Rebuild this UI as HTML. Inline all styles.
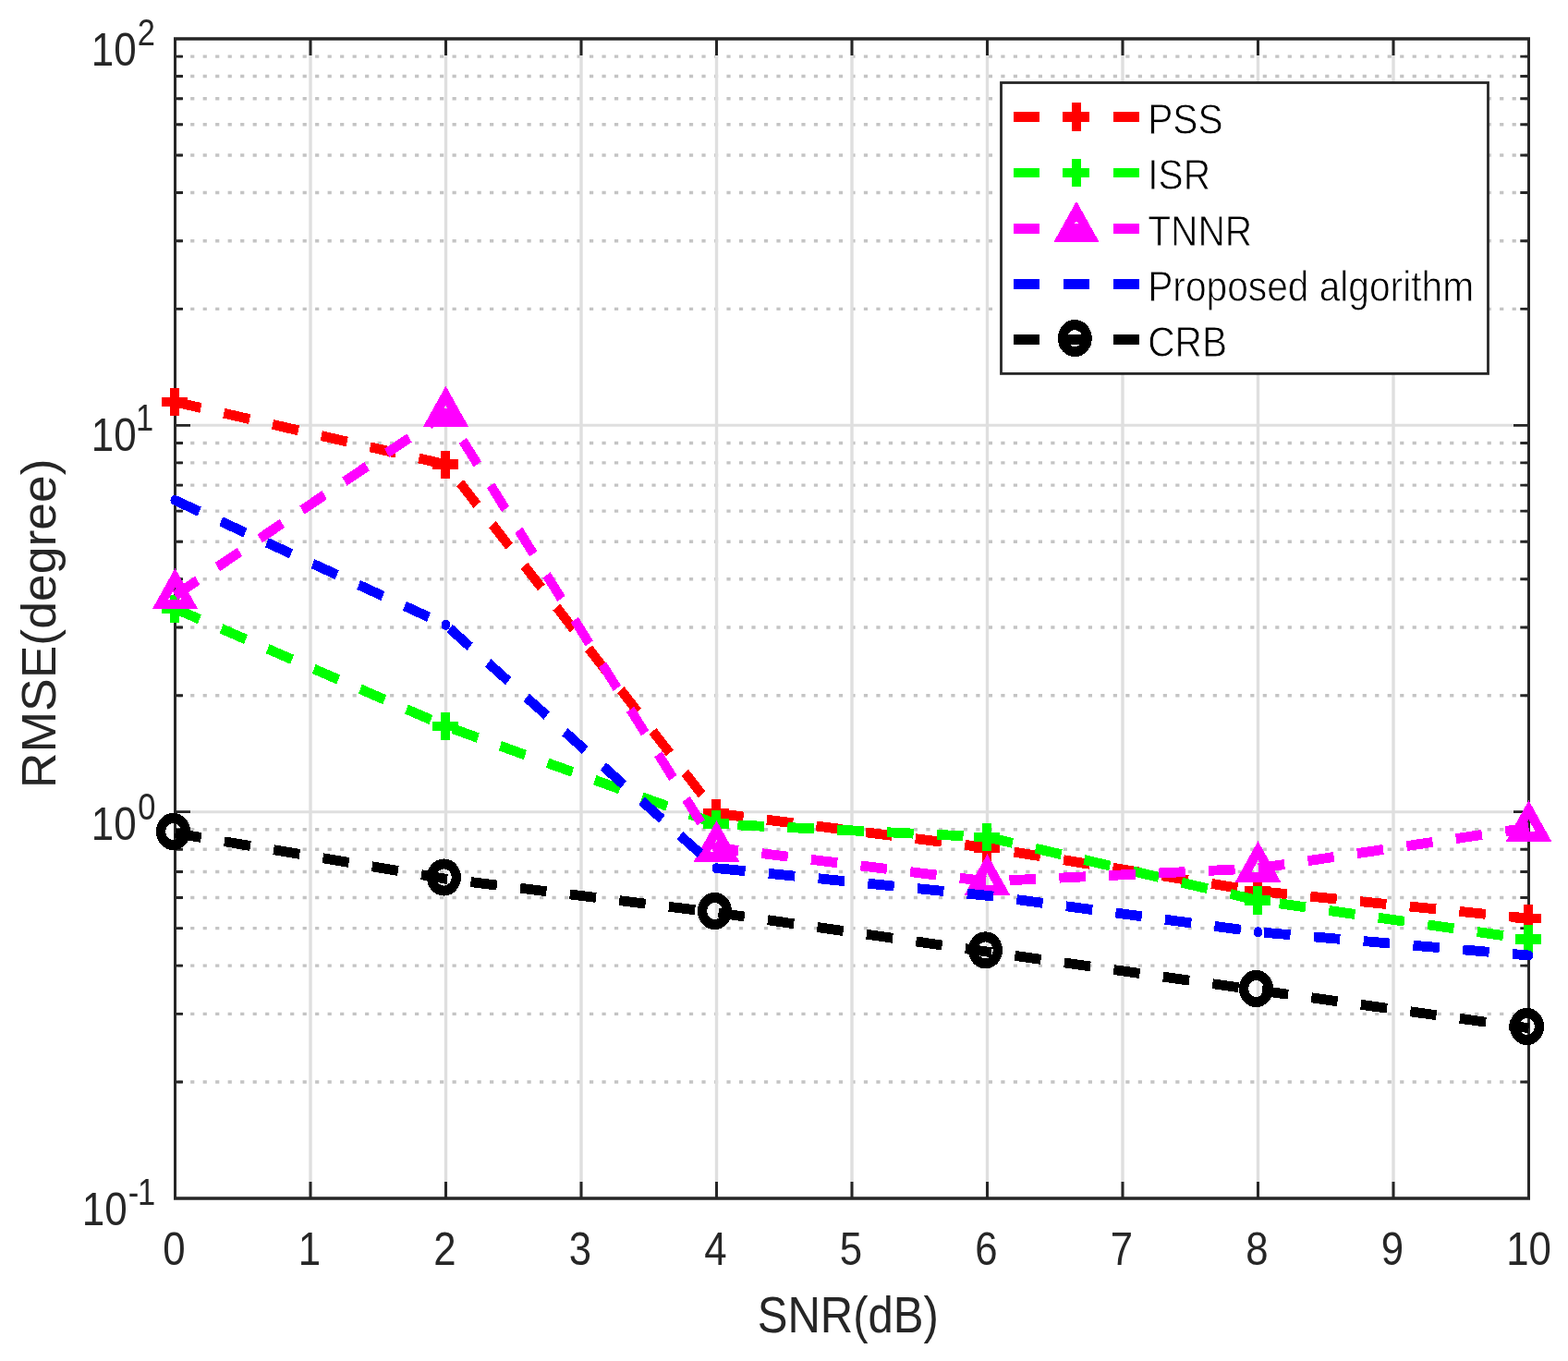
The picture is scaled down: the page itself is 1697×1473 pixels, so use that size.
<!DOCTYPE html>
<html><head><meta charset="utf-8"><title>RMSE vs SNR</title>
<style>html,body{margin:0;padding:0;background:#fff;}svg{display:block;}</style>
</head><body>
<svg width="1697" height="1473" viewBox="0 0 1697 1473">
<rect x="0" y="0" width="1697" height="1473" fill="#fff"/>
<path d="M192.65 1171.07H1653.00 M192.65 1097.40H1653.00 M192.65 1045.14H1653.00 M192.65 1004.60H1653.00 M192.65 971.47H1653.00 M192.65 943.47H1653.00 M192.65 919.21H1653.00 M192.65 897.81H1653.00 M192.65 752.74H1653.00 M192.65 679.07H1653.00 M192.65 626.80H1653.00 M192.65 586.26H1653.00 M192.65 553.14H1653.00 M192.65 525.13H1653.00 M192.65 500.87H1653.00 M192.65 479.48H1653.00 M192.65 334.40H1653.00 M192.65 260.74H1653.00 M192.65 208.47H1653.00 M192.65 167.93H1653.00 M192.65 134.81H1653.00 M192.65 106.80H1653.00 M192.65 82.54H1653.00 M192.65 61.14H1653.00" stroke="#c4c4c4" stroke-width="3.4" stroke-dasharray="4.2 9.295" fill="none"/>
<path d="M336.00 42.0V1297.0 M482.50 42.0V1297.0 M629.00 42.0V1297.0 M775.50 42.0V1297.0 M922.00 42.0V1297.0 M1068.50 42.0V1297.0 M1215.00 42.0V1297.0 M1361.50 42.0V1297.0 M1508.00 42.0V1297.0" stroke="#dfdfdf" stroke-width="3.4" fill="none"/>
<path d="M189.5 878.67H1654.5 M189.5 460.33H1654.5" stroke="#dfdfdf" stroke-width="3" fill="none"/>
<path d="M189.5 878.67H206.0M1654.5 878.67H1638.0 M189.5 460.33H206.0M1654.5 460.33H1638.0 M189.5 1171.07H198.0M1654.5 1171.07H1645.3 M189.5 1097.40H198.0M1654.5 1097.40H1645.3 M189.5 1045.14H198.0M1654.5 1045.14H1645.3 M189.5 1004.60H198.0M1654.5 1004.60H1645.3 M189.5 971.47H198.0M1654.5 971.47H1645.3 M189.5 943.47H198.0M1654.5 943.47H1645.3 M189.5 919.21H198.0M1654.5 919.21H1645.3 M189.5 897.81H198.0M1654.5 897.81H1645.3 M189.5 752.74H198.0M1654.5 752.74H1645.3 M189.5 679.07H198.0M1654.5 679.07H1645.3 M189.5 626.80H198.0M1654.5 626.80H1645.3 M189.5 586.26H198.0M1654.5 586.26H1645.3 M189.5 553.14H198.0M1654.5 553.14H1645.3 M189.5 525.13H198.0M1654.5 525.13H1645.3 M189.5 500.87H198.0M1654.5 500.87H1645.3 M189.5 479.48H198.0M1654.5 479.48H1645.3 M189.5 334.40H198.0M1654.5 334.40H1645.3 M189.5 260.74H198.0M1654.5 260.74H1645.3 M189.5 208.47H198.0M1654.5 208.47H1645.3 M189.5 167.93H198.0M1654.5 167.93H1645.3 M189.5 134.81H198.0M1654.5 134.81H1645.3 M189.5 106.80H198.0M1654.5 106.80H1645.3 M189.5 82.54H198.0M1654.5 82.54H1645.3 M189.5 61.14H198.0M1654.5 61.14H1645.3" stroke="#262626" stroke-width="2.9" fill="none"/>
<path d="M336.00 1297.0V1279.0M336.00 42.0V60.0 M482.50 1297.0V1279.0M482.50 42.0V60.0 M629.00 1297.0V1279.0M629.00 42.0V60.0 M775.50 1297.0V1279.0M775.50 42.0V60.0 M922.00 1297.0V1279.0M922.00 42.0V60.0 M1068.50 1297.0V1279.0M1068.50 42.0V60.0 M1215.00 1297.0V1279.0M1215.00 42.0V60.0 M1361.50 1297.0V1279.0M1361.50 42.0V60.0 M1508.00 1297.0V1279.0M1508.00 42.0V60.0" stroke="#262626" stroke-width="3" fill="none"/>
<path d="M189.5 42.0V1297.0M1654.5 42.0V1297.0" stroke="#262626" stroke-width="3" fill="none"/>
<path d="M188.0 42.0H1656.0M188.0 1297.0H1656.0" stroke="#262626" stroke-width="3.5" fill="none"/>
<g transform="scale(1,1.085)" shape-rendering="crispEdges">
<polyline points="189.50,400.92 482.50,463.32 775.50,811.34 1068.50,845.62 1361.50,888.94 1654.50,916.13" fill="none" stroke="#ff0000" stroke-width="10" stroke-dasharray="28.5 25.45" stroke-linejoin="round"/>
<rect x="174.70" y="395.92" width="28.6" height="10" fill="#ff0000"/><rect x="184.00" y="386.92" width="10" height="28" fill="#ff0000"/>
<rect x="467.70" y="458.32" width="28.6" height="10" fill="#ff0000"/><rect x="477.00" y="449.32" width="10" height="28" fill="#ff0000"/>
<rect x="760.70" y="806.34" width="28.6" height="10" fill="#ff0000"/><rect x="770.00" y="797.34" width="10" height="28" fill="#ff0000"/>
<rect x="1053.70" y="840.62" width="28.6" height="10" fill="#ff0000"/><rect x="1063.00" y="831.62" width="10" height="28" fill="#ff0000"/>
<rect x="1346.70" y="883.94" width="28.6" height="10" fill="#ff0000"/><rect x="1356.00" y="874.94" width="10" height="28" fill="#ff0000"/>
<rect x="1639.70" y="911.13" width="28.6" height="10" fill="#ff0000"/><rect x="1649.00" y="902.13" width="10" height="28" fill="#ff0000"/>
<polyline points="189.50,607.10 482.50,724.42 775.50,821.94 1068.50,835.02 1361.50,898.16 1654.50,936.87" fill="none" stroke="#00ff00" stroke-width="10" stroke-dasharray="28.5 25.45" stroke-linejoin="round"/>
<rect x="174.70" y="602.10" width="28.6" height="10" fill="#00ff00"/><rect x="184.00" y="593.10" width="10" height="28" fill="#00ff00"/>
<rect x="467.70" y="719.42" width="28.6" height="10" fill="#00ff00"/><rect x="477.00" y="710.42" width="10" height="28" fill="#00ff00"/>
<rect x="760.70" y="816.94" width="28.6" height="10" fill="#00ff00"/><rect x="770.00" y="807.94" width="10" height="28" fill="#00ff00"/>
<rect x="1053.70" y="830.02" width="28.6" height="10" fill="#00ff00"/><rect x="1063.00" y="821.02" width="10" height="28" fill="#00ff00"/>
<rect x="1346.70" y="893.16" width="28.6" height="10" fill="#00ff00"/><rect x="1356.00" y="884.16" width="10" height="28" fill="#00ff00"/>
<rect x="1639.70" y="931.87" width="28.6" height="10" fill="#00ff00"/><rect x="1649.00" y="922.87" width="10" height="28" fill="#00ff00"/>
<polyline points="189.50,594.01 482.50,412.26 775.50,845.71 1068.50,879.17 1361.50,866.18 1654.50,825.62" fill="none" stroke="#ff00ff" stroke-width="10" stroke-dasharray="28.5 25.45" stroke-linejoin="round"/>
<path fill="none" stroke="#ff00ff" stroke-width="10" stroke-linejoin="miter" d="M189.50 576.41L205.43 602.81L173.57 602.81Z"/>
<path fill="none" stroke="#ff00ff" stroke-width="10" stroke-linejoin="miter" d="M482.50 394.66L498.43 421.06L466.57 421.06Z"/>
<path fill="none" stroke="#ff00ff" stroke-width="10" stroke-linejoin="miter" d="M775.50 828.11L791.43 854.51L759.57 854.51Z"/>
<path fill="none" stroke="#ff00ff" stroke-width="10" stroke-linejoin="miter" d="M1068.50 861.57L1084.43 887.97L1052.57 887.97Z"/>
<path fill="none" stroke="#ff00ff" stroke-width="10" stroke-linejoin="miter" d="M1361.50 848.58L1377.43 874.98L1345.57 874.98Z"/>
<path fill="none" stroke="#ff00ff" stroke-width="10" stroke-linejoin="miter" d="M1654.50 808.02L1670.43 834.42L1638.57 834.42Z"/>
<polyline points="189.50,499.08 482.50,623.41 775.50,865.99 1068.50,893.36 1361.50,929.68 1654.50,953.00" fill="none" stroke="#0000ff" stroke-width="10" stroke-dasharray="28.5 25.45" stroke-linejoin="round"/>
<circle cx="189.50" cy="499.08" r="5" fill="#0000ff"/>
<circle cx="482.50" cy="623.41" r="5" fill="#0000ff"/>
<circle cx="775.50" cy="865.99" r="5" fill="#0000ff"/>
<circle cx="1068.50" cy="893.36" r="5" fill="#0000ff"/>
<circle cx="1361.50" cy="929.68" r="5" fill="#0000ff"/>
<circle cx="1654.50" cy="953.00" r="5" fill="#0000ff"/>
<polyline points="189.50,831.06 482.50,876.68 775.50,910.32 1068.50,949.40 1361.50,987.74 1654.50,1025.53" fill="none" stroke="#000000" stroke-width="10" stroke-dasharray="28.5 25.45" stroke-linejoin="round"/>
<circle cx="187.50" cy="829.49" r="13.4" fill="none" stroke="#000000" stroke-width="10.2"/>
<circle cx="480.50" cy="875.12" r="13.4" fill="none" stroke="#000000" stroke-width="10.2"/>
<circle cx="773.50" cy="908.76" r="13.4" fill="none" stroke="#000000" stroke-width="10.2"/>
<circle cx="1066.50" cy="947.83" r="13.4" fill="none" stroke="#000000" stroke-width="10.2"/>
<circle cx="1359.50" cy="986.18" r="13.4" fill="none" stroke="#000000" stroke-width="10.2"/>
<circle cx="1652.50" cy="1023.96" r="13.4" fill="none" stroke="#000000" stroke-width="10.2"/>
</g>
<text transform="translate(188.50,1368.60) scale(1,1.1370)" font-family="Liberation Sans, sans-serif" font-size="43.80" fill="#262626" text-anchor="middle">0</text>
<text transform="translate(335.00,1368.60) scale(1,1.1370)" font-family="Liberation Sans, sans-serif" font-size="43.80" fill="#262626" text-anchor="middle">1</text>
<text transform="translate(481.50,1368.60) scale(1,1.1370)" font-family="Liberation Sans, sans-serif" font-size="43.80" fill="#262626" text-anchor="middle">2</text>
<text transform="translate(628.00,1368.60) scale(1,1.1370)" font-family="Liberation Sans, sans-serif" font-size="43.80" fill="#262626" text-anchor="middle">3</text>
<text transform="translate(774.50,1368.60) scale(1,1.1370)" font-family="Liberation Sans, sans-serif" font-size="43.80" fill="#262626" text-anchor="middle">4</text>
<text transform="translate(921.00,1368.60) scale(1,1.1370)" font-family="Liberation Sans, sans-serif" font-size="43.80" fill="#262626" text-anchor="middle">5</text>
<text transform="translate(1067.50,1368.60) scale(1,1.1370)" font-family="Liberation Sans, sans-serif" font-size="43.80" fill="#262626" text-anchor="middle">6</text>
<text transform="translate(1214.00,1368.60) scale(1,1.1370)" font-family="Liberation Sans, sans-serif" font-size="43.80" fill="#262626" text-anchor="middle">7</text>
<text transform="translate(1360.50,1368.60) scale(1,1.1370)" font-family="Liberation Sans, sans-serif" font-size="43.80" fill="#262626" text-anchor="middle">8</text>
<text transform="translate(1507.00,1368.60) scale(1,1.1370)" font-family="Liberation Sans, sans-serif" font-size="43.80" fill="#262626" text-anchor="middle">9</text>
<text transform="translate(1654.50,1368.60) scale(1,1.1370)" font-family="Liberation Sans, sans-serif" font-size="43.80" fill="#262626" text-anchor="middle">10</text>
<text transform="translate(98.87,70.90) scale(1,1.1500)" font-family="Liberation Sans, sans-serif" font-size="44.00" fill="#262626" text-anchor="start">10</text>
<text transform="translate(158.40,48.90) scale(1,1.1681)" font-family="Liberation Sans, sans-serif" font-size="34.50" fill="#262626" text-anchor="middle">2</text>
<text transform="translate(98.87,487.80) scale(1,1.1500)" font-family="Liberation Sans, sans-serif" font-size="44.00" fill="#262626" text-anchor="start">10</text>
<text transform="translate(156.50,465.80) scale(1,1.1681)" font-family="Liberation Sans, sans-serif" font-size="34.50" fill="#262626" text-anchor="middle">1</text>
<text transform="translate(98.77,909.00) scale(1,1.1500)" font-family="Liberation Sans, sans-serif" font-size="44.00" fill="#262626" text-anchor="start">10</text>
<text transform="translate(158.90,887.00) scale(1,1.1681)" font-family="Liberation Sans, sans-serif" font-size="34.50" fill="#262626" text-anchor="middle">0</text>
<text transform="translate(88.67,1325.80) scale(1,1.1500)" font-family="Liberation Sans, sans-serif" font-size="44.00" fill="#262626" text-anchor="start">10</text>
<text transform="translate(158.50,1303.80) scale(1,1.1681)" font-family="Liberation Sans, sans-serif" font-size="34.50" fill="#262626" text-anchor="middle">1</text>
<text transform="translate(144.45,1303.80) scale(1,1.1681)" font-family="Liberation Sans, sans-serif" font-size="34.50" fill="#262626" text-anchor="middle">-</text>
<text transform="translate(819.67,1441.60) scale(1,1.1374)" font-family="Liberation Sans, sans-serif" font-size="49.06" fill="#262626" text-anchor="start">SNR(dB)</text>
<text transform="translate(60.00,853.20) rotate(-90) scale(1,0.9720)" font-family="Liberation Sans, sans-serif" font-size="53.50" fill="#262626" text-anchor="start">RMSE(degree)</text>
<rect x="1083.5" y="89.5" width="527.0" height="314.9" fill="#fff" stroke="#262626" stroke-width="2.8"/>
<g transform="scale(1,1.085)" shape-rendering="crispEdges">
<rect x="1097" y="111.59" width="28" height="10" fill="#ff0000"/>
<rect x="1151" y="111.59" width="28" height="10" fill="#ff0000"/>
<rect x="1205" y="111.59" width="28" height="10" fill="#ff0000"/>
<rect x="1150.20" y="111.59" width="28.6" height="10" fill="#ff0000"/><rect x="1159.50" y="102.59" width="10" height="28" fill="#ff0000"/>
<rect x="1097" y="167.35" width="28" height="10" fill="#00ff00"/>
<rect x="1151" y="167.35" width="28" height="10" fill="#00ff00"/>
<rect x="1205" y="167.35" width="28" height="10" fill="#00ff00"/>
<rect x="1150.20" y="167.35" width="28.6" height="10" fill="#00ff00"/><rect x="1159.50" y="158.35" width="10" height="28" fill="#00ff00"/>
<rect x="1097" y="222.93" width="28" height="10" fill="#ff00ff"/>
<rect x="1151" y="222.93" width="28" height="10" fill="#ff00ff"/>
<rect x="1205" y="222.93" width="28" height="10" fill="#ff00ff"/>
<path fill="none" stroke="#ff00ff" stroke-width="10" stroke-linejoin="miter" d="M1165.00 210.33L1180.93 236.73L1149.07 236.73Z"/>
<rect x="1097" y="278.41" width="28" height="10" fill="#0000ff"/>
<rect x="1151" y="278.41" width="28" height="10" fill="#0000ff"/>
<rect x="1205" y="278.41" width="28" height="10" fill="#0000ff"/>
<rect x="1097" y="333.62" width="28" height="10" fill="#000000"/>
<rect x="1151" y="333.62" width="28" height="10" fill="#000000"/>
<rect x="1205" y="333.62" width="28" height="10" fill="#000000"/>
<circle cx="1163.30" cy="337.42" r="13.4" fill="none" stroke="#000000" stroke-width="10.2"/>
</g>
<text transform="translate(1242.20,144.70) scale(1,1.1179)" font-family="Liberation Sans, sans-serif" font-size="40.70" fill="#000" text-anchor="start" stroke="#fff" stroke-width="0.7">PSS</text>
<text transform="translate(1242.20,205.20) scale(1,1.1179)" font-family="Liberation Sans, sans-serif" font-size="40.70" fill="#000" text-anchor="start" stroke="#fff" stroke-width="0.7">ISR</text>
<text transform="translate(1242.20,265.50) scale(1,1.1179)" font-family="Liberation Sans, sans-serif" font-size="40.70" fill="#000" text-anchor="start" stroke="#fff" stroke-width="0.7">TNNR</text>
<text transform="translate(1242.20,325.70) scale(1,1.1179)" font-family="Liberation Sans, sans-serif" font-size="40.70" fill="#000" text-anchor="start" stroke="#fff" stroke-width="0.7">Proposed algorithm</text>
<text transform="translate(1242.20,385.60) scale(1,1.1179)" font-family="Liberation Sans, sans-serif" font-size="40.70" fill="#000" text-anchor="start" stroke="#fff" stroke-width="0.7">CRB</text>
</svg>
</body></html>
